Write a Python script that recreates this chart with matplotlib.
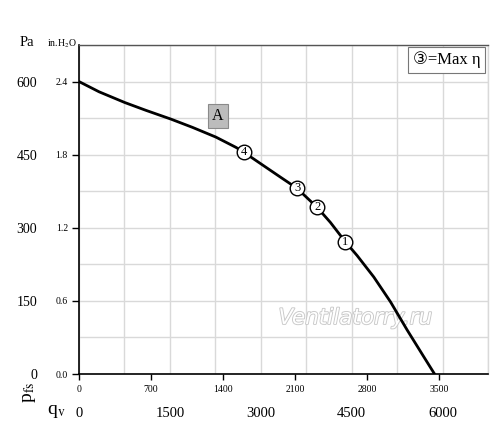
import numpy as np
import matplotlib
matplotlib.use("Agg")
import matplotlib.pyplot as plt
import matplotlib.patheffects as pe

plt.rcParams['font.family'] = ['Liberation Serif', 'DejaVu Serif', 'DejaVu Sans']
plt.rcParams['mathtext.fontset'] = 'stix'

# Data
flow_m3h = [0, 331, 755, 1103, 1516, 1873, 2260, 2590, 2720, 2992, 3323, 3598, 3929,
            4149, 4397, 4590, 4865, 5141, 5417, 5692, 5868]
pressure_pa = [600, 579, 557, 541, 523, 506, 486, 465, 455, 432, 404, 381, 342,
               311, 271, 243, 199, 148, 90, 35, 0]

marker_labels = ['1', '2', '3', '4']
marker_flow = [4397, 3929, 3598, 2720]
marker_pa = [271, 342, 381, 455]

pa_ticks = [0, 150, 300, 450, 600]
inh2o_ticks = [0.0, 0.6, 1.2, 1.8, 2.4]
m3h_ticks = [0, 1500, 3000, 4500, 6000]
cfm_ticks = [0, 700, 1400, 2100, 2800, 3500]

W, H = 500, 436
fig = plt.figure(figsize=(W / 100, H / 100), dpi=100)
ax = fig.add_axes([79 / W, 1 - 374 / H, (488 - 79) / W, (374 - 45) / H])

ax.set_xlim(0, 6750)
ax.set_ylim(0, 675)

grid_c = '#d9d9d9'
ax.set_xticks(m3h_ticks)
ax.set_xticks(np.arange(750, 6751, 1500), minor=True)
ax.set_yticks(pa_ticks)
ax.set_yticks(np.arange(75, 676, 150), minor=True)
ax.grid(True, which='both', color=grid_c, linewidth=1.0)
ax.set_axisbelow(True)

ax.tick_params(axis='x', which='both', length=0, pad=24, labelsize=10.5)
ax.tick_params(axis='y', which='both', length=0, pad=30, labelsize=10)
ax.set_xticklabels([str(v) for v in m3h_ticks])
ax.set_yticklabels([str(v) for v in pa_ticks])

for s in ['left', 'bottom']:
    ax.spines[s].set_color('black')
    ax.spines[s].set_linewidth(1.2)
ax.spines['top'].set_color('#555555')
ax.spines['top'].set_linewidth(1.0)
ax.spines['right'].set_color(grid_c)
ax.spines['right'].set_linewidth(1.0)

# Secondary scales
CF = 6000 / 3531.5
secx = ax.secondary_xaxis('bottom', functions=(lambda q: q / CF, lambda c: c * CF))
secx.set_xticks(cfm_ticks)
secx.set_xticklabels([str(v) for v in cfm_ticks])
secx.tick_params(length=4, width=1, pad=4, labelsize=7)
secx.spines['bottom'].set_visible(False)

secy = ax.secondary_yaxis('left', functions=(lambda p: p / 250.0, lambda h: h * 250.0))
secy.set_yticks(inh2o_ticks)
secy.set_yticklabels(['%.1f' % v for v in inh2o_ticks])
secy.tick_params(length=5, width=1, pad=3, labelsize=7)
secy.spines['left'].set_visible(False)

# Curve
ax.plot(flow_m3h, pressure_pa, color='black', linewidth=2.0,
        solid_capstyle='round', solid_joinstyle='round', zorder=3)

for lab, fx, py in zip(marker_labels, marker_flow, marker_pa):
    ax.plot(fx, py, 'o', markersize=10.5, markerfacecolor='white',
            markeredgecolor='black', markeredgewidth=1.0, zorder=4)
    ax.text(fx, py, lab, ha='center', va='center', fontsize=9, zorder=5)

# "A" label
ax.text(2293, 530, 'A', ha='center', va='center', fontsize=11.5, zorder=5,
        bbox=dict(boxstyle='square,pad=0.25', facecolor='#bcbcbc', edgecolor='#8a8a8a', linewidth=0.8))

# Legend box
ax.text(6630, 644, '\u2462=Max \u03b7', ha='right', va='center', fontsize=12,
        family=['Liberation Serif', 'DejaVu Sans'], zorder=5,
        bbox=dict(boxstyle='square,pad=0.28', facecolor='white', edgecolor='#777777', linewidth=0.8))

# Watermark
ax.text(4560, 115, 'Ventilatorry.ru', ha='center', va='center', fontsize=15.5,
        style='italic', family=['DejaVu Sans'], color='white', zorder=2,
        path_effects=[pe.withStroke(linewidth=1.3, foreground='#c8c8c8')])

# Axis captions
fig.text(27 / W, 1 - 42 / H, 'Pa', ha='center', va='center', fontsize=10.5)
fig.text(62 / W, 1 - 44 / H, 'in.H$_2$O', ha='center', va='center', fontsize=7)
fig.text(30 / W, 1 - 392 / H, 'p$_{\\mathrm{fs}}$', ha='center', va='center', fontsize=14, rotation=90)
fig.text(56 / W, 1 - 411 / H, 'q$_{\\mathrm{v}}$', ha='center', va='center', fontsize=14)

fig.savefig('out.png', dpi=100, facecolor='white')
